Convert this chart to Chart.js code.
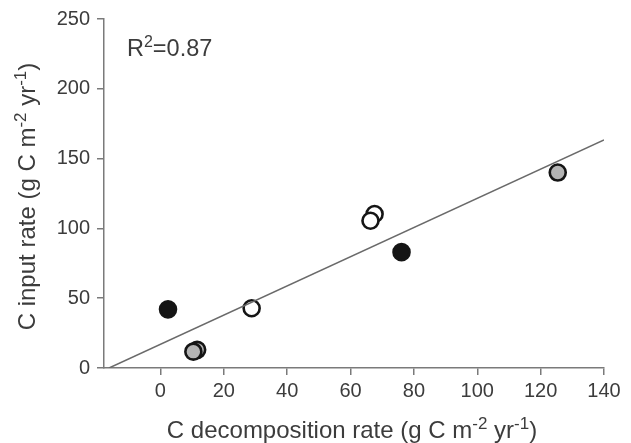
<!DOCTYPE html>
<html>
<head>
<meta charset="utf-8">
<script src="https://cdn.jsdelivr.net/npm/chart.js@4/dist/chart.umd.min.js"></script>
<style>
  html, body { margin: 0; padding: 0; background: #fff; }
  #wrap { width: 631px; height: 443px; position: relative; }
</style>
</head>
<body>
<div id="wrap"><canvas id="c" width="631" height="443"></canvas></div>
<script>
// Decomposition rate (x) vs input rate (y), g C m-2 yr-1, grouped by site type
const blackX = [2.4, 76.1];
const blackY = [42, 83];
const grayX = [11.6, 10.4, 125.4];
const grayY = [13, 11.7, 140];
const openX = [28.8, 67.6, 66.3];
const openY = [42.8, 110.3, 105.5];

// Fitted regression line end points
const fitX = [-16.2, 140];
const fitY = [0, 163.3];

const xTicks = [0, 20, 40, 60, 80, 100, 120, 140];
const yTicks = [0, 50, 100, 150, 200, 250];
const rSquared = '0.87';

const FONT = '"Liberation Sans", Arial, Helvetica, sans-serif';
const TEXT = '#3c3c3c';
const AXIS = '#7a7a7a';

const pts = (xs, ys) => xs.map((x, i) => ({ x: x, y: ys[i] }));

// Draws text with superscript pieces: parts = [[text, isSup], ...]
function richWidth(ctx, parts, size, supSize) {
  let w = 0;
  for (const [t, sup] of parts) {
    ctx.font = (sup ? supSize : size) + 'px ' + FONT;
    w += ctx.measureText(t).width;
  }
  return w;
}
function drawRich(ctx, parts, x, y, size, supSize, raise) {
  let px = x;
  for (const [t, sup] of parts) {
    ctx.font = (sup ? supSize : size) + 'px ' + FONT;
    ctx.fillText(t, px, sup ? y - raise : y);
    px += ctx.measureText(t).width;
  }
}

const xTitle = [['C decomposition rate (g C m', false], ['-2', true], [' yr', false], ['-1', true], [')', false]];
const yTitle = [['C input rate (g C m', false], ['-2', true], [' yr', false], ['-1', true], [')', false]];
const rLabel = [['R', false], ['2', true], ['=' + rSquared, false]];

const titlesPlugin = {
  id: 'titles',
  afterDraw(chart) {
    const ctx = chart.ctx;
    const a = chart.chartArea;
    const size = 24, sup = 17, raise = 9;
    ctx.save();
    ctx.fillStyle = TEXT;
    ctx.textBaseline = 'alphabetic';
    ctx.textAlign = 'left';
    // x axis title
    const wx = richWidth(ctx, xTitle, size, sup);
    drawRich(ctx, xTitle, (a.left + a.right) / 2 - 2 - wx / 2, 438, size, sup, raise);
    // y axis title, rotated
    const wy = richWidth(ctx, yTitle, size, sup);
    ctx.save();
    ctx.translate(35, (a.top + a.bottom) / 2 + 3 + wy / 2);
    ctx.rotate(-Math.PI / 2);
    drawRich(ctx, yTitle, 0, 0, size, sup, raise);
    ctx.restore();
    // R squared label
    drawRich(ctx, rLabel, 127, 56, 23.5, 16, raise);
    ctx.restore();
  }
};

const marker = (fill) => ({
  type: 'scatter',
  pointRadius: 8,
  pointHoverRadius: 8,
  pointBackgroundColor: fill,
  pointBorderColor: '#151515',
  pointBorderWidth: 2.6,
  showLine: false
});

new Chart(document.getElementById('c'), {
  type: 'scatter',
  data: {
    datasets: [
      {
        type: 'line',
        data: pts(fitX, fitY),
        borderColor: '#6a6a6a',
        borderWidth: 1.5,
        pointRadius: 0,
        fill: false,
        tension: 0
      },
      Object.assign(marker('#b4b4b4'), { data: pts(grayX, grayY) }),
      Object.assign(marker('#ffffff'), { data: pts(openX, openY) }),
      Object.assign(marker('#151515'), { data: pts(blackX, blackY) })
    ]
  },
  options: {
    responsive: false,
    animation: false,
    events: [],
    layout: { padding: { top: 19, right: 27, left: 0, bottom: 0 } },
    plugins: { legend: { display: false }, tooltip: { enabled: false } },
    scales: {
      x: {
        type: 'linear',
        min: -17.8,
        max: 140,
        afterBuildTicks(scale) { scale.ticks = xTicks.map(v => ({ value: v })); },
        afterFit(scale) { scale.height = 75; },
        grid: { drawOnChartArea: false, drawTicks: true, tickLength: 7, color: AXIS, lineWidth: 1.5 },
        border: { display: true, color: AXIS, width: 1.5 },
        ticks: { color: TEXT, font: { family: FONT, size: 20 }, padding: 4, maxRotation: 0 }
      },
      y: {
        type: 'linear',
        min: 0,
        max: 250,
        afterBuildTicks(scale) { scale.ticks = yTicks.map(v => ({ value: v })); },
        afterFit(scale) { scale.width = 104; },
        grid: { drawOnChartArea: false, drawTicks: true, tickLength: 7, color: AXIS, lineWidth: 1.5 },
        border: { display: true, color: AXIS, width: 1.5 },
        ticks: { color: TEXT, font: { family: FONT, size: 20 }, padding: 7 }
      }
    }
  },
  plugins: [titlesPlugin]
});
</script>
</body>
</html>
